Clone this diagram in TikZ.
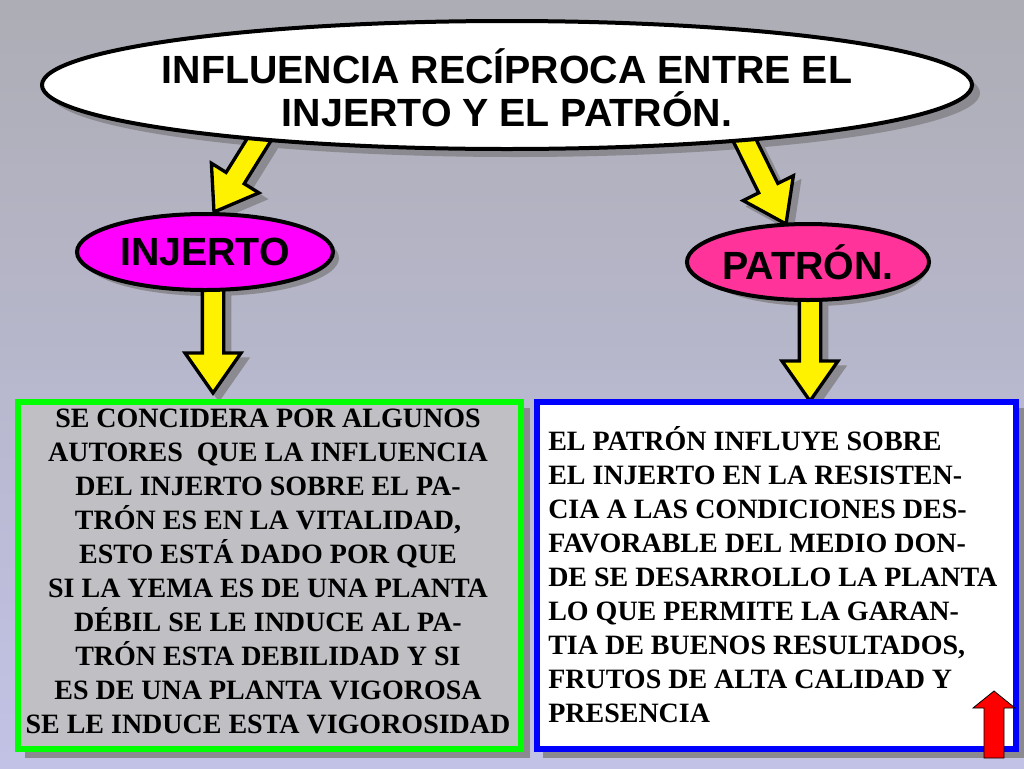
\documentclass[tikz,border=0pt]{standalone}
\usepackage{fontspec}
\setmainfont{Liberation Serif}
\setsansfont{Liberation Sans}
\usetikzlibrary{calc,shapes.geometric}
\definecolor{bgtop}{HTML}{ADADB5}
\definecolor{bgbot}{HTML}{C2C2E6}
\definecolor{shad}{HTML}{8A8A90}
\definecolor{pat}{HTML}{FF3399}
\definecolor{mag}{HTML}{FF00FF}
\definecolor{lgray}{HTML}{C0C0C4}
\newcommand\blockarrow[3]{% start, end, fill
  \path ($(#1)+(6,6)$) coordinate (q1) ($(#2)+(6,6)$) coordinate (q2);
  \foreach \P/\Q/\F/\D in {q1/q2/shad/shad,#1/#2/#3/black}{
  \filldraw[fill=\F,draw=\D,line width=2.5pt,line join=miter]
    ($(\P)!8pt!90:(\Q)$) -- ($($(\Q)!30pt!(\P)$)!8pt!90:(\Q)$)
    -- ($($(\Q)!30pt!(\P)$)!21pt!90:(\Q)$) -- (\Q)
    -- ($($(\Q)!30pt!(\P)$)!21pt!-90:(\Q)$) -- ($($(\Q)!30pt!(\P)$)!8pt!-90:(\Q)$)
    -- ($(\P)!8pt!-90:(\Q)$) -- cycle;}}
\tikzset{
  oval/.style={ellipse,draw=black,line width=3pt,inner sep=0pt},
  box/.style={line width=4pt}
}
\begin{document}
\begin{tikzpicture}[x=0.75pt,y=-0.75pt]
\useasboundingbox (0,0) rectangle (1024,768);
\shade[top color=bgtop,bottom color=bgbot] (0,0) rectangle (1024,768);
% coordinates
\coordinate (a1s) at (262,135); \coordinate (a1e) at (214,212);
\coordinate (a2s) at (742,135); \coordinate (a2e) at (786,224);
\coordinate (a3s) at (213,282); \coordinate (a3e) at (213,393);
\coordinate (a4s) at (810,292); \coordinate (a4e) at (810,401);
% shadows of ovals
\fill[shad] (515,93) ellipse [x radius=465,y radius=64];
\fill[shad] (211,258) ellipse [x radius=128,y radius=38];
\fill[shad] (814,268) ellipse [x radius=113,y radius=38];
% arrows
\blockarrow{a1s}{a1e}{yellow}
\blockarrow{a2s}{a2e}{yellow}
\blockarrow{a3s}{a3e}{yellow}
\blockarrow{a4s}{a4e}{yellow}
% ovals
\node[oval,fill=white,minimum width=930*0.75pt,minimum height=128*0.75pt] (title) at (507,85) {};
\node[font=\sffamily\bfseries\fontsize{29.5}{32}\selectfont,align=center] (tt) at (507,88) {INFLUENCIA RECÍPROCA ENTRE EL\\INJERTO Y EL PATRÓN.};
\node[oval,fill=mag,minimum width=256*0.75pt,minimum height=76*0.75pt,font=\sffamily\bfseries\fontsize{29.5}{32}\selectfont] (inj) at (205,252) {INJERTO};
\node[oval,fill=pat,minimum width=226*0.75pt,minimum height=76*0.75pt,font=\sffamily\bfseries\fontsize{29.5}{32}\selectfont] (pat) at (808,262) {PATRÓN.};
% boxes
\fill[shad] (25,408) rectangle (530,758);
\fill[shad] (543,408) rectangle (1024,758);
\filldraw[box,fill=lgray,draw=green] (18,402) rectangle (521,749);
\filldraw[box,fill=white,draw=blue] (537,402) rectangle (1016,749);
\node[font=\bfseries\fontsize{21}{25.5}\selectfont,align=center,anchor=north] (lt) at (268,404) {SE CONCIDERA POR ALGUNOS\\AUTORES\ \ QUE LA INFLUENCIA\\DEL INJERTO SOBRE EL PA-\\TRÓN ES EN LA VITALIDAD,\\ESTO ESTÁ DADO POR QUE\\SI LA YEMA ES DE UNA PLANTA\\DÉBIL SE LE INDUCE AL PA-\\TRÓN ESTA DEBILIDAD Y SI\\ES DE UNA PLANTA VIGOROSA\\SE LE INDUCE ESTA VIGOROSIDAD};
\node[font=\bfseries\fontsize{21}{25.5}\selectfont,align=left,anchor=north west,inner sep=0pt] (rt) at (548,426) {EL PATRÓN INFLUYE SOBRE\\EL INJERTO EN LA RESISTEN-\\CIA A LAS CONDICIONES DES-\\FAVORABLE DEL MEDIO DON-\\DE SE DESARROLLO LA PLANTA\\LO QUE PERMITE LA GARAN-\\TIA DE BUENOS RESULTADOS,\\FRUTOS DE ALTA CALIDAD Y\\PRESENCIA};
% red arrow
\filldraw[fill=red,draw=black,line width=0.6pt] (984,758) -- (984,708) -- (973,708) -- (994,691) -- (1015,708) -- (1004,708) -- (1004,758) -- cycle;
\end{tikzpicture}
\end{document}
